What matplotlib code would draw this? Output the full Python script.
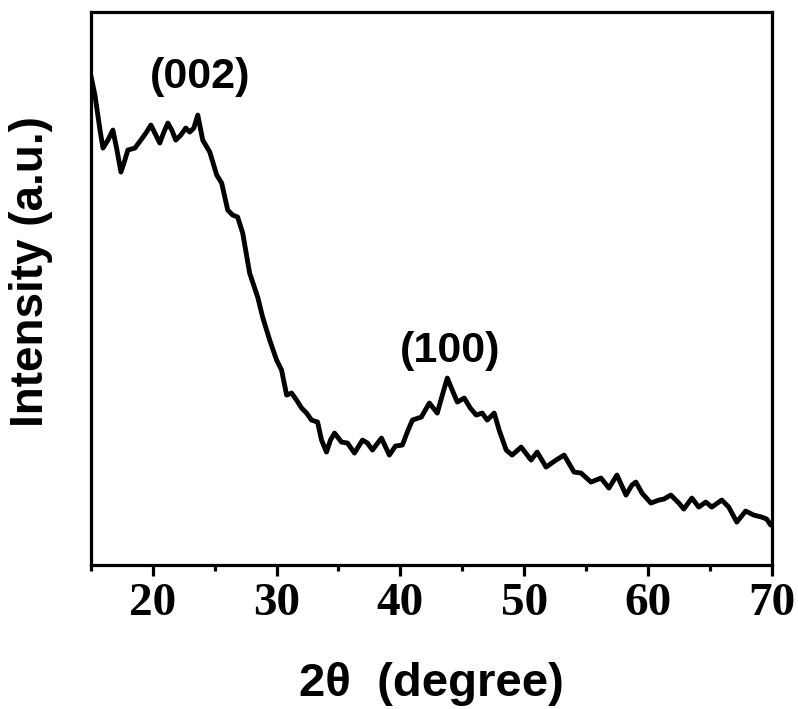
import numpy as np
import matplotlib.pyplot as plt
from matplotlib.ticker import MultipleLocator

# XRD pattern (2theta in degree, intensity in a.u.)
two_theta = [15.00, 15.32, 15.73, 15.97, 16.37, 16.77, 17.10, 17.42, 17.74, 17.98,
             18.55, 19.03, 19.44, 19.84, 20.24, 20.56, 20.89, 21.21, 21.53, 21.85,
             22.26, 22.66, 22.98, 23.31, 23.63, 24.03, 24.60, 25.16, 25.56, 26.05,
             26.45, 26.85, 27.26, 27.82, 28.47, 28.87, 29.44, 30.00, 30.40, 30.81,
             31.21, 31.61, 32.02, 32.42, 32.82, 33.31, 33.63, 34.03, 34.35, 34.68,
             35.24, 35.73, 36.29, 36.94, 37.34, 37.74, 38.47, 39.11, 39.60, 40.16,
             40.56, 40.97, 41.69, 42.34, 42.66, 42.98, 43.39, 43.79, 44.19, 44.60,
             45.16, 45.65, 46.13, 46.61, 47.02, 47.58, 47.98, 48.55, 49.03, 49.76,
             50.56, 51.05, 51.77, 52.58, 53.23, 54.03, 54.60, 55.40, 56.21, 56.85,
             57.50, 58.23, 58.71, 59.03, 59.52, 60.24, 60.89, 61.29, 61.85, 62.50,
             62.90, 63.55, 64.11, 64.68, 65.16, 65.97, 66.53, 67.18, 67.90, 68.55,
             69.19, 69.60, 69.92]
intensity = [489, 470, 435, 417, 425, 435, 415, 393, 405, 415,
             417, 425, 432, 440, 430, 422, 433, 442, 435, 425,
             430, 437, 433, 437, 450, 425, 413, 390, 382, 355,
             350, 348, 332, 292, 268, 248, 225, 205, 195, 170,
             172, 165, 157, 152, 145, 143, 125, 113, 125, 132,
             123, 122, 112, 125, 122, 115, 127, 110, 119, 120,
             133, 145, 148, 162, 157, 152, 170, 187, 175, 163,
             167, 157, 150, 152, 145, 152, 135, 115, 110, 118,
             105, 113, 98, 105, 110, 93, 92, 83, 87, 77,
             90, 70, 80, 83, 72, 62, 65, 66, 70, 62,
             56, 67, 58, 63, 58, 65, 58, 43, 54, 50,
             48, 46, 40]

peak_labels = ["(002)", "(100)"]
peak_pos = [23.8, 44.0]
peak_text_y = [488, 214]

fig = plt.figure(figsize=(7.98, 7.09), dpi=100)
ax = fig.add_axes([0.114, 0.203, 0.853, 0.78])

ax.plot(two_theta, intensity, color="black", linewidth=3.5,
        solid_joinstyle="round", solid_capstyle="round")

for lab, xp, yp in zip(peak_labels, peak_pos, peak_text_y):
    ax.text(xp, yp, lab, ha="center", va="center",
            fontsize=31, fontweight="bold", family="Liberation Sans")

ax.set_xlim(15, 70)
ax.set_ylim(0, 553)
ax.xaxis.set_major_locator(MultipleLocator(10))
ax.xaxis.set_minor_locator(MultipleLocator(5))
ax.set_yticks([])

for s in ax.spines.values():
    s.set_linewidth(2.3)

ax.tick_params(axis="x", which="major", direction="out", length=8, width=2.3,
               pad=5)
ax.tick_params(axis="x", which="minor", direction="out", length=4, width=2.3)
for t in ax.get_xticklabels():
    t.set_family("Liberation Serif")
    t.set_fontweight("bold")
    t.set_fontsize(34)

ax.set_xlabel("2\u03b8  (degree)", fontsize=34, fontweight="bold",
              family="Liberation Sans")
ax.xaxis.set_label_coords(0.5, -0.175)
ax.set_ylabel("Intensity (a.u.)", fontsize=33, fontweight="bold",
              family="Liberation Sans")
ax.yaxis.set_label_coords(-0.056, 0.53)

fig.savefig("out.png", dpi=100)
